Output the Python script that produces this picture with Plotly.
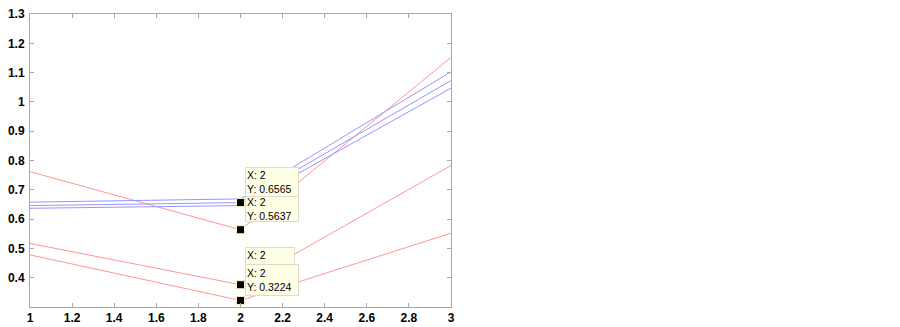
import plotly.graph_objects as go

# ---- data ----
x_vals = [1, 2, 3]
red_a = [0.762, 0.5637, 1.152]
red_b = [0.517, 0.376, 0.783]
red_c = [0.478, 0.3224, 0.552]
blue_a = [0.658, 0.669, 1.103]
blue_b = [0.646, 0.6565, 1.073]
blue_c = [0.637, 0.646, 1.047]

tip_x = [2, 2, 2, 2]
tip_y = [0.5637, 0.6565, 0.376, 0.3224]       # drawing order of datatips
tip_text_y = ["0.5637", "0.6565", "0.376", "0.3224"]

x_ticks = [1, 1.2, 1.4, 1.6, 1.8, 2, 2.2, 2.4, 2.6, 2.8, 3]
x_tick_labels = ["1", "1.2", "1.4", "1.6", "1.8", "2", "2.2", "2.4", "2.6", "2.8", "3"]
y_ticks = [0.4, 0.5, 0.6, 0.7, 0.8, 0.9, 1.0, 1.1, 1.2, 1.3]
y_tick_labels = ["0.4", "0.5", "0.6", "0.7", "0.8", "0.9", "1", "1.1", "1.2", "1.3"]

# ---- layout / style of the datatip boxes (pixels) ----
box_yshift = [8.0, 5.7, 7.3, 4.1]
box_height = [22, 26, 26, 28]
box_width = [50, 50, 46, 50]

RED = "rgb(255,150,150)"
BLUE = "rgb(150,150,255)"

fig = go.Figure()
for ys in [red_a, red_b, red_c]:
    fig.add_trace(go.Scatter(x=x_vals, y=ys, mode="lines",
                             line=dict(color=RED, width=1), hoverinfo="skip"))
for ys in [blue_a, blue_b, blue_c]:
    fig.add_trace(go.Scatter(x=x_vals, y=ys, mode="lines",
                             line=dict(color=BLUE, width=1), hoverinfo="skip"))

fig.add_trace(go.Scatter(x=tip_x, y=tip_y, mode="markers",
                         marker=dict(symbol="square", size=8, color="black",
                                     line=dict(color="#f5f0c8", width=1)),
                         hoverinfo="skip"))

for xv, yv, txt, sh, h, w in zip(tip_x, tip_y, tip_text_y, box_yshift, box_height, box_width):
    fig.add_annotation(
        x=xv, y=yv, xref="x", yref="y",
        text=f"X: {xv}<br>Y: {txt}",
        showarrow=False, xanchor="left", yanchor="bottom",
        xshift=4, yshift=sh, align="left", valign="middle",
        font=dict(family="Arial", size=10.5, color="black"),
        bgcolor="#FFFFE6", bordercolor="#dcdcc8", borderwidth=1, borderpad=1,
        width=w, height=h,
    )

axis_common = dict(
    showgrid=False, zeroline=False, showline=True, linecolor="#a8a8a8", linewidth=1,
    mirror="ticks", ticks="inside", ticklen=4, tickcolor="#a8a8a8", automargin=False,
    ticklabeloverflow="allow",
    tickfont=dict(family="Arial", size=12, color="black", weight="bold"),
)

# page body adds an 8px offset, so the figure is sized to fit the window
fig.update_layout(
    width=892, height=319,
    margin=dict(l=22, r=449, t=6, b=20),
    paper_bgcolor="white", plot_bgcolor="white",
    showlegend=False,
    xaxis=dict(range=[1, 3], tickvals=x_ticks, ticktext=x_tick_labels, **axis_common),
    yaxis=dict(range=[0.3, 1.3002], tickvals=y_ticks, ticktext=y_tick_labels,
               ticklabelstandoff=2, **axis_common),
)

fig.write_html("out.html")
